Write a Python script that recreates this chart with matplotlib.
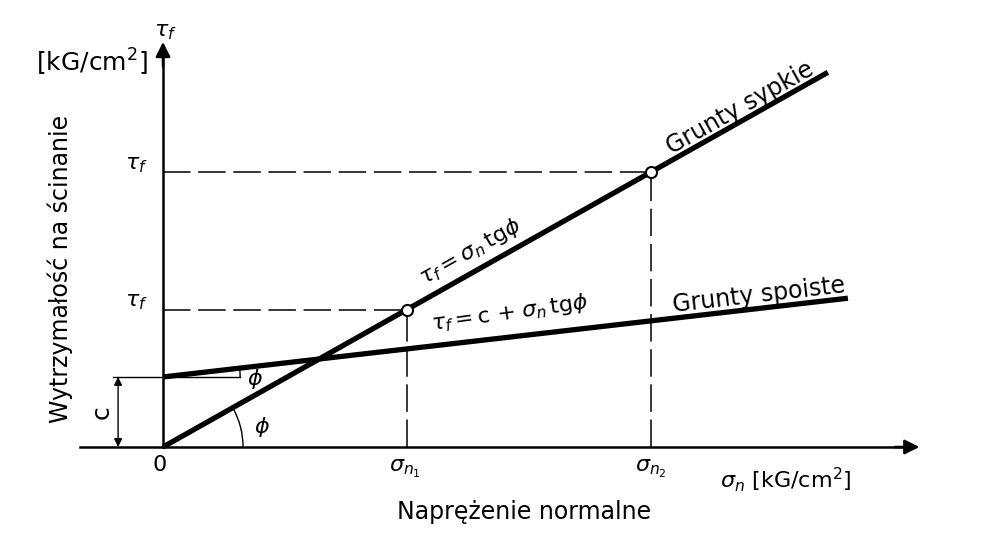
import numpy as np
import matplotlib
matplotlib.use('Agg')
import matplotlib.pyplot as plt
from matplotlib.patches import Arc

plt.rcParams['font.family'] = ['DejaVu Sans']
plt.rcParams['mathtext.fontset'] = 'dejavusans'

# wartości (jednostki umowne)
sigma_points = [1.0, 2.0]          # sigma_n1, sigma_n2
tg_phi_sypkie = 0.5635             # nachylenie prostej dla gruntów sypkich
c_spoiste = 0.287                  # spójność c
tg_phi_spoiste = 0.115             # nachylenie prostej dla gruntów spoistych
sigma_end_sypkie = 2.725
sigma_end_spoiste = 2.807
x_axis_range = [-0.34, 3.10]
y_axis_top = 1.66

tau_points = [tg_phi_sypkie * s for s in sigma_points]

fig = plt.figure(figsize=(10.08, 5.39), dpi=100)
ax = fig.add_axes([0, 0, 1, 1])
ax.set_xlim(-163 / 244, (1008 - 163) / 244)
ax.set_ylim((447 - 539) / 244, 447 / 244)
ax.axis('off')

k = 'black'

# osie ze strzałkami
ax.plot([x_axis_range[0], x_axis_range[1] - 0.05], [0, 0], color=k, lw=1.8)
ax.annotate('', xy=(x_axis_range[1], 0), xytext=(x_axis_range[1] - 0.1, 0),
            arrowprops=dict(arrowstyle='-|>', color=k, lw=1.8,
                            mutation_scale=22, shrinkA=0, shrinkB=0))
ax.plot([0, 0], [0, y_axis_top - 0.05], color=k, lw=1.8)
ax.annotate('', xy=(0, y_axis_top), xytext=(0, y_axis_top - 0.1),
            arrowprops=dict(arrowstyle='-|>', color=k, lw=1.8,
                            mutation_scale=22, shrinkA=0, shrinkB=0))

# proste Coulomba
xs = np.array([0, sigma_end_sypkie])
ax.plot(xs, tg_phi_sypkie * xs, color=k, lw=3.8, solid_capstyle='butt')
xc = np.array([0, sigma_end_spoiste])
ax.plot(xc, c_spoiste + tg_phi_spoiste * xc, color=k, lw=3.8,
        solid_capstyle='butt')

# linie pomocnicze przerywane
for s, t in zip(sigma_points, tau_points):
    ax.plot([0, s], [t, t], color=k, lw=1.1, dashes=(18, 5))
    ax.plot([s, s], [0, t], color=k, lw=1.1, dashes=(18, 5))
ax.plot(sigma_points, tau_points, 'o', ms=8, mfc='white', mec=k, mew=1.5,
        zorder=5)

# wymiar c
xdim = -0.184
ax.plot([-0.205, 0], [c_spoiste, c_spoiste], color=k, lw=1.0)
ax.annotate('', xy=(xdim, 0), xytext=(xdim, c_spoiste),
            arrowprops=dict(arrowstyle='<|-|>', color=k, lw=1.0,
                            mutation_scale=12, shrinkA=0, shrinkB=0))
ax.text(-0.25, c_spoiste / 2, 'c', fontsize=18, rotation=90,
        ha='center', va='center')

# kąty tarcia
phi1 = np.degrees(np.arctan(tg_phi_sypkie))
phi2 = np.degrees(np.arctan(tg_phi_spoiste))
ax.add_patch(Arc((0, 0), 2 * 0.328, 2 * 0.328, theta1=0, theta2=phi1,
                 color=k, lw=1.0))
ax.text(0.405, 0.08, r'$\phi$', fontsize=16, ha='center', va='center')
ax.plot([0, 0.316], [c_spoiste, c_spoiste], color=k, lw=1.0)
ax.add_patch(Arc((0, c_spoiste), 2 * 0.316, 2 * 0.316, theta1=0, theta2=phi2,
                 color=k, lw=1.0))
ax.text(0.375, c_spoiste - 0.01, r'$\phi$', fontsize=16, ha='center',
        va='center')


def along(x0, slope, b, d, text, rot, fs, va='center'):
    # napis równoległy do prostej, przesunięty prostopadle o d
    th = np.arctan(slope)
    y0 = b + slope * x0
    ax.text(x0 - np.sin(th) * d, y0 + np.cos(th) * d, text, fontsize=fs,
            rotation=rot, rotation_mode='anchor', ha='center', va=va)


# opisy
fs = 16
ax.text(0.01, 1.70, r'$\tau_f$', fontsize=fs, ha='center', va='center')
ax.text(-0.29, 1.575, r'[kG/cm$^2$]', fontsize=18, ha='center', va='center')
ax.text(-0.42, 0.73, 'Wytrzymałość na ścinanie', fontsize=17, rotation=90,
        ha='center', va='center')
ax.text(-0.107, tau_points[1] + 0.03, r'$\tau_f$', fontsize=fs,
        ha='center', va='center')
ax.text(-0.107, tau_points[0] + 0.03, r'$\tau_f$', fontsize=fs,
        ha='center', va='center')
ax.text(-0.012, -0.074, '0', fontsize=fs, ha='center', va='center')
ax.text(sigma_points[0] - 0.01, -0.09, r'$\sigma_{n_1}$', fontsize=fs,
        ha='center', va='center')
ax.text(sigma_points[1] + 0.0, -0.09, r'$\sigma_{n_2}$', fontsize=fs,
        ha='center', va='center')
ax.text(2.55, -0.135, r'$\sigma_n$ [kG/cm$^2$]', fontsize=fs,
        ha='center', va='center')
ax.text(1.48, -0.265, 'Naprężenie normalne', fontsize=17,
        ha='center', va='center')

along(2.39, tg_phi_sypkie, 0, 0.02, 'Grunty sypkie', phi1, 17, 'baseline')
along(2.45, tg_phi_spoiste, c_spoiste, 0.025, 'Grunty spoiste', phi2, 17,
      'baseline')
along(1.30, tg_phi_sypkie, 0, 0.055, r'$\tau_f = \sigma_n\,$tg$\phi$', phi1,
      16, 'baseline')
ax.text(1.42, 0.548, r'$\tau_f = $c + $\sigma_n\,$tg$\phi$', fontsize=16,
        rotation=8, rotation_mode='anchor', ha='center', va='center')

fig.savefig('out.png', dpi=100, facecolor='white')
